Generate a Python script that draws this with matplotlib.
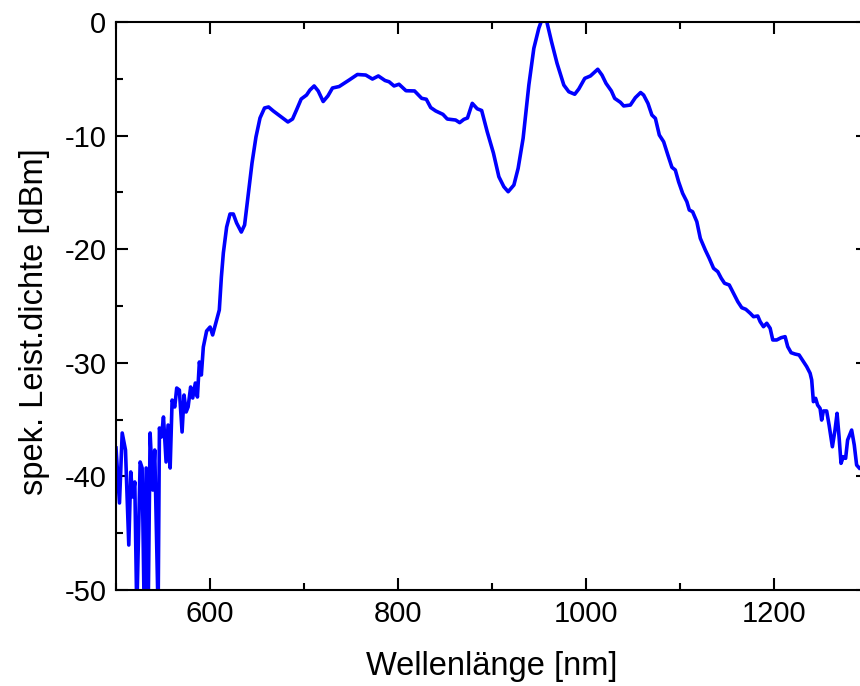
import matplotlib
matplotlib.use("Agg")
import matplotlib.pyplot as plt
from matplotlib.ticker import MultipleLocator

plt.rcParams['font.family'] = ['Liberation Sans', 'DejaVu Sans']
plt.rcParams['axes.unicode_minus'] = False

# Wellenlaenge [nm]
wl = [500.0, 503.7, 506.6, 510.1, 513.6, 515.7, 517.8, 520.0, 522.1, 525.7,
      527.8, 530.0, 532.1, 534.2, 536.3, 539.1, 541.2, 544.8, 546.2, 548.3,
      550.5, 553.3, 555.4, 557.6, 559.7, 562.5, 564.6, 567.4, 570.3, 572.4,
      574.6, 576.7, 579.4, 581.6, 584.4, 586.6, 588.7, 590.8, 592.9, 596.4,
      600.1, 602.8, 607.1, 609.9, 612.1, 614.2, 617.7, 621.3, 624.8, 628.3,
      633.3, 636.8, 640.4, 644.7, 648.9, 653.2, 658.0, 662.3, 667.3, 675.8,
      682.9, 687.8, 692.0, 697.0, 702.7, 706.3, 710.8, 715.1, 720.4, 725.4,
      730.3, 737.4, 748.0, 756.8, 765.7, 772.8, 779.1, 786.2, 790.5, 795.8,
      801.1, 808.5, 817.6, 825.2, 830.1, 834.8, 840.1, 847.8, 852.4, 861.3,
      865.6, 870.1, 873.9, 879.0, 884.3, 889.0, 894.9, 901.5, 907.3, 912.6,
      917.2, 923.3, 927.8, 933.1, 939.2, 944.5, 949.8, 953.0, 957.8, 963.3,
      969.2, 976.4, 981.7, 988.0, 992.3, 998.7, 1004.7, 1012.5, 1017.0, 1021.3,
      1027.0, 1030.5, 1036.6, 1040.1, 1047.2, 1052.5, 1058.1, 1061.3, 1065.9, 1070.1,
      1073.8, 1078.0, 1082.6, 1087.1, 1091.4, 1095.0, 1098.5, 1102.8, 1107.3, 1109.9,
      1113.4, 1117.9, 1121.6, 1126.9, 1131.1, 1135.7, 1140.2, 1143.9, 1147.4, 1152.4,
      1156.9, 1161.5, 1165.7, 1170.0, 1174.7, 1178.2, 1182.7, 1185.3, 1188.8, 1192.3,
      1195.9, 1198.7, 1202.9, 1207.6, 1211.8, 1214.6, 1218.2, 1222.4, 1226.7, 1230.2,
      1234.8, 1238.4, 1240.1, 1241.9, 1244.3, 1246.4, 1249.0, 1250.7, 1252.5, 1256.0,
      1258.6, 1262.1, 1264.9, 1267.1, 1269.2, 1271.3, 1273.7, 1276.2, 1278.3, 1282.6,
      1285.4, 1287.9, 1290.7]

# spektrale Leistungsdichte [dBm]
psd = [-37.50, -42.34, -36.18, -37.68, -46.04, -39.61, -41.81, -40.49, -52.0, -38.73,
       -39.26, -52.0, -39.26, -52.0, -36.18, -41.20, -37.68, -52.0, -35.74, -36.53,
       -34.77, -38.73, -35.48, -39.26, -33.28, -33.89, -32.22, -32.40, -36.09, -32.84,
       -34.33, -33.89, -32.13, -33.10, -31.78, -33.01, -29.93, -31.07, -28.61, -27.20,
       -26.85, -27.55, -26.23, -25.35, -22.45, -20.33, -18.05, -16.90, -16.90, -17.69,
       -18.49, -17.87, -15.41, -12.41, -10.12, -8.45, -7.57, -7.48, -7.83, -8.36,
       -8.80, -8.54, -7.75, -6.78, -6.43, -5.99, -5.63, -6.07, -7.00, -6.51,
       -5.81, -5.68, -5.11, -4.62, -4.67, -5.02, -4.75, -5.15, -5.26, -5.63,
       -5.48, -6.05, -6.07, -6.72, -6.80, -7.53, -7.83, -8.13, -8.54, -8.63,
       -8.86, -8.57, -8.45, -7.16, -7.64, -7.79, -9.66, -11.53, -13.62, -14.50,
       -14.94, -14.35, -12.88, -10.24, -5.55, -2.32, -0.55, 0.2, 0.2, -1.73,
       -3.64, -5.55, -6.14, -6.36, -5.90, -4.96, -4.75, -4.16, -4.67, -5.40,
       -6.07, -6.72, -7.07, -7.39, -7.31, -6.66, -6.21, -6.43, -7.16, -8.19,
       -8.48, -9.95, -10.54, -11.71, -12.79, -13.03, -14.06, -15.08, -15.82, -16.55,
       -16.70, -17.58, -19.04, -20.07, -20.80, -21.68, -21.98, -22.56, -23.00, -23.15,
       -23.88, -24.62, -25.15, -25.29, -25.64, -25.94, -25.88, -26.38, -26.82, -26.52,
       -26.96, -27.99, -27.99, -27.79, -27.70, -28.58, -29.11, -29.23, -29.31, -29.75,
       -30.34, -30.92, -31.51, -33.42, -33.13, -33.72, -34.01, -35.04, -34.24, -34.24,
       -35.48, -37.39, -35.92, -34.45, -36.51, -38.85, -38.27, -38.41, -36.80, -35.92,
       -37.24, -39.00, -39.26]

fig = plt.figure(figsize=(8.6, 6.86), dpi=100)
# right edge of the axes lies just outside the picture, as in the original
ax = fig.add_axes([116 / 860, 96 / 686, 752 / 860, 568 / 686])

ax.plot(wl, psd, color='#0000ff', lw=2.6)

ax.set_xlim(500, 1300)
ax.set_ylim(-50, 0)
ax.xaxis.set_major_locator(MultipleLocator(200))
ax.xaxis.set_minor_locator(MultipleLocator(100))
ax.yaxis.set_major_locator(MultipleLocator(10))
ax.yaxis.set_minor_locator(MultipleLocator(5))
ax.set_xticks([600, 800, 1000, 1200])

ax.tick_params(which='both', direction='in', top=True, right=True, width=1.5,
               labelsize=21)
ax.tick_params(which='major', length=8.5, pad=7)
ax.tick_params(which='minor', length=5)
for s in ax.spines.values():
    s.set_linewidth(1.5)

ax.set_xlabel('Wellenlänge [nm]', fontsize=23.5, labelpad=17)
ax.set_ylabel('spek. Leist.dichte [dBm]', fontsize=23.5)
ax.yaxis.set_label_coords(-0.088, 0.472)

fig.savefig('out.png', dpi=100)
